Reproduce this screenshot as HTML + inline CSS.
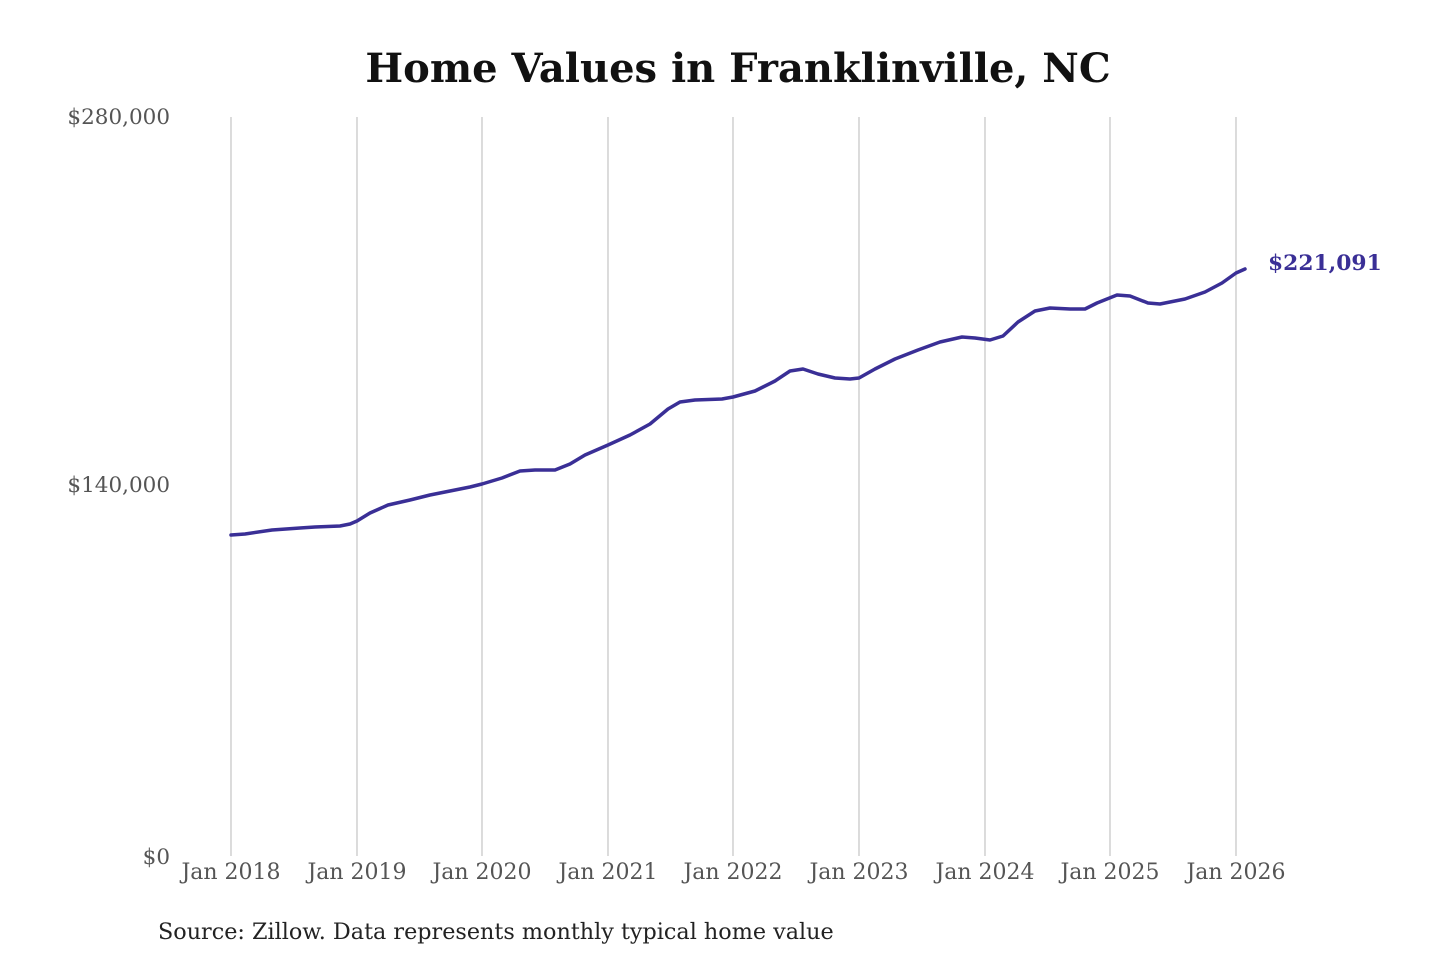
<!DOCTYPE html>
<html><head><meta charset="utf-8"><style>
html,body{margin:0;padding:0;background:#fff;width:1440px;height:960px;overflow:hidden}
</style></head><body>
<svg width="1440" height="960" xmlns="http://www.w3.org/2000/svg" font-family="'DejaVu Serif','Liberation Serif',serif">
<text x="738" y="82" text-anchor="middle" font-size="40" font-weight="bold" fill="#111">Home Values in Franklinville, NC</text>
<g stroke="#c8c8c8" stroke-width="1.3">
<line x1="231" y1="117" x2="231" y2="856"/><line x1="357" y1="117" x2="357" y2="856"/><line x1="482" y1="117" x2="482" y2="856"/><line x1="608" y1="117" x2="608" y2="856"/><line x1="733" y1="117" x2="733" y2="856"/><line x1="859" y1="117" x2="859" y2="856"/><line x1="985" y1="117" x2="985" y2="856"/><line x1="1110" y1="117" x2="1110" y2="856"/><line x1="1236" y1="117" x2="1236" y2="856"/>
</g>
<g font-size="21.5" fill="#555" text-anchor="end">
<text x="170" y="124">$280,000</text><text x="170" y="492">$140,000</text><text x="170" y="864">$0</text>
</g>
<g font-size="22" fill="#555" text-anchor="middle">
<text x="231" y="879">Jan 2018</text><text x="357" y="879">Jan 2019</text><text x="482" y="879">Jan 2020</text><text x="608" y="879">Jan 2021</text><text x="733" y="879">Jan 2022</text><text x="859" y="879">Jan 2023</text><text x="985" y="879">Jan 2024</text><text x="1110" y="879">Jan 2025</text><text x="1236" y="879">Jan 2026</text>
</g>
<polyline fill="none" stroke="#3a2f96" stroke-width="3.5" stroke-linejoin="round" stroke-linecap="round" points="231,535 245,534 272,530 300,528 315,527 340,526 350,524 357,521 370,513 388,505 410,500 430,495 450,491 470,487 482,484 502,478 520,471 535,470 555,470 570,464 585,455 608,445 630,435 650,424 668,409 680,402 695,400 722,399 733,397 755,391 775,381 790,371 803,369 818,374 835,378 850,379 859,378 875,369 895,359 918,350 940,342 962,337 975,338 990,340 1003,336 1018,322 1035,311 1050,308 1070,309 1085,309 1097,303 1117,295 1130,296 1148,303 1160,304 1185,299 1205,292 1222,283 1236,273 1245,269"/>
<text x="1268" y="270" font-size="21.8" font-weight="bold" fill="#3a2f96">$221,091</text>
<text x="158" y="939" font-size="22.3" fill="#222">Source: Zillow. Data represents monthly typical home value</text>
</svg>
</body></html>
